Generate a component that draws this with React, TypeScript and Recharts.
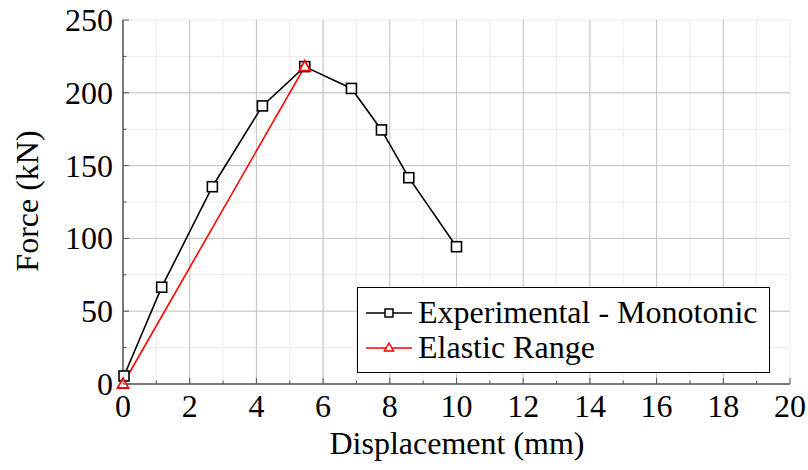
import React from 'react';
import { LineChart, Line, XAxis, YAxis, CartesianGrid, ReferenceLine, Legend } from 'recharts';

const expDisp = [0.03, 1.16, 2.68, 4.18, 5.45, 6.85, 7.75, 8.57, 10.0];
const expForce = [5.5, 66.5, 135.5, 191, 218, 203, 174.5, 141.7, 94.3];
const elasticDisp = [0, 5.45];
const elasticForce = [0, 218];

const xTicks = [0, 1, 2, 3, 4, 5, 6, 7, 8, 9, 10, 11, 12, 13, 14, 15, 16, 17, 18, 19, 20];
const yTicks = [0, 25, 50, 75, 100, 125, 150, 175, 200, 225, 250];
const xMajor = [2, 4, 6, 8, 10, 12, 14, 16, 18];
const yMajor = [50, 100, 150, 200];

const SERIES_EXP = 'Experimental - Monotonic';
const SERIES_EL = 'Elastic Range';
const SERIES_ORDER = [SERIES_EXP, SERIES_EL];

const expData = expDisp.map((x, i) => ({ x, y: expForce[i] }));
const elData = elasticDisp.map((x, i) => ({ x, y: elasticForce[i] }));

const FONT = '"Liberation Serif", "Times New Roman", serif';
const FS = 32;

const XTick = (props: any) => {
  const { x, y, payload } = props;
  const major = payload.value % 2 === 0;
  return (
    <g>
      <line x1={x} x2={x} y1={y} y2={y - (major ? 6 : 3.5)} stroke="#555" strokeWidth={1} />
      {major && (
        <text x={x} y={y + 33} textAnchor="middle" style={{ fontFamily: FONT, fontSize: FS }} fill="#000">
          {payload.value}
        </text>
      )}
    </g>
  );
};

const XTopTick = (props: any) => {
  const { x, y, payload } = props;
  const major = payload.value % 2 === 0;
  return <line x1={x} x2={x} y1={y} y2={y + (major ? 6 : 3.5)} stroke="#555" strokeWidth={1} />;
};

const YTick = (props: any) => {
  const { x, y, payload } = props;
  const major = payload.value % 50 === 0;
  return (
    <g>
      <line x1={x} x2={x + (major ? 6 : 3.5)} y1={y} y2={y} stroke="#555" strokeWidth={1} />
      {major && (
        <text x={x - 10} y={y + 11} textAnchor="end" style={{ fontFamily: FONT, fontSize: FS }} fill="#000">
          {payload.value}
        </text>
      )}
    </g>
  );
};

const YRightTick = (props: any) => {
  const { x, y, payload } = props;
  const major = payload.value % 50 === 0;
  return <line x1={x} x2={x - (major ? 6 : 3.5)} y1={y} y2={y} stroke="#555" strokeWidth={1} />;
};

const SquareDot = (props: any) => {
  const { cx, cy, index } = props;
  if (cx == null || cy == null) return <g key={index} />;
  return <rect key={index} x={cx - 5} y={cy - 5} width={10} height={10} fill="#fff" stroke="#000" strokeWidth={1.6} />;
};

const TriDot = (props: any) => {
  const { cx, cy, index } = props;
  if (cx == null || cy == null) return <g key={index} />;
  return (
    <path
      key={index}
      d={`M${cx},${cy - 6} L${cx + 5.5},${cy + 4} L${cx - 5.5},${cy + 4} Z`}
      fill="#fff"
      stroke="#f00"
      strokeWidth={1.8}
    />
  );
};

const LegendContent = (props: any) => {
  const { payload } = props;
  const items = [...(payload || [])].sort(
    (a: any, b: any) => SERIES_ORDER.indexOf(a.value) - SERIES_ORDER.indexOf(b.value)
  );
  return (
    <div
      style={{
        border: '1px solid #000',
        background: '#fff',
        padding: '7px 10px 9px 8px',
        boxSizing: 'border-box',
        height: 86,
      }}
    >
      {items.map((entry: any) => {
        const isExp = entry.value === SERIES_EXP;
        return (
          <div key={entry.value} style={{ display: 'flex', alignItems: 'center', height: 35 }}>
            <svg width={46} height={20} style={{ marginRight: 6, flex: 'none' }}>
              <line x1={0} x2={46} y1={10} y2={10} stroke={isExp ? '#000' : '#f00'} strokeWidth={1.6} />
              {isExp ? (
                <rect x={19} y={6} width={8} height={8} fill="#fff" stroke="#000" strokeWidth={1.5} />
              ) : (
                <path d="M23,5 L27.5,13 L18.5,13 Z" fill="#fff" stroke="#f00" strokeWidth={1.5} />
              )}
            </svg>
            <span style={{ fontFamily: FONT, fontSize: FS, color: '#000', lineHeight: '35px', whiteSpace: 'nowrap' }}>
              {entry.value}
            </span>
          </div>
        );
      })}
    </div>
  );
};

export default function App() {
  return (
    <div style={{ position: 'absolute', left: 0, top: 0, width: 808, height: 470, background: '#fff' }}>
      <LineChart width={808} height={470} margin={{ top: 20, right: 18, bottom: 0, left: 0 }}>
        <CartesianGrid stroke="#ebebeb" strokeWidth={1} xAxisId="main" yAxisId="main" />
        {xMajor.map((v) => (
          <ReferenceLine key={'gx' + v} x={v} xAxisId="main" yAxisId="main" stroke="#c4c4c4" strokeWidth={1} />
        ))}
        {yMajor.map((v) => (
          <ReferenceLine key={'gy' + v} y={v} xAxisId="main" yAxisId="main" stroke="#c4c4c4" strokeWidth={1} />
        ))}
        <XAxis
          xAxisId="main"
          type="number"
          dataKey="x"
          domain={[0, 20]}
          ticks={xTicks}
          interval={0}
          height={86}
          tickSize={0}
          tickMargin={0}
          tickLine={false}
          axisLine={{ stroke: '#000', strokeWidth: 1 }}
          tick={<XTick />}
          label={{
            content: () => (
              <text x={457} y={454} textAnchor="middle" style={{ fontFamily: FONT, fontSize: FS }} fill="#000">
                Displacement (mm)
              </text>
            ),
          }}
        />
        <XAxis
          xAxisId="top"
          orientation="top"
          type="number"
          dataKey="x"
          domain={[0, 20]}
          ticks={xTicks}
          interval={0}
          allowDataOverflow
          height={0}
          tickSize={0}
          tickMargin={0}
          tickLine={false}
          axisLine={{ stroke: '#000', strokeWidth: 1 }}
          tick={<XTopTick />}
        />
        <YAxis
          yAxisId="main"
          type="number"
          domain={[0, 250]}
          ticks={yTicks}
          interval={0}
          width={123}
          tickSize={0}
          tickMargin={0}
          tickLine={false}
          axisLine={{ stroke: '#000', strokeWidth: 1 }}
          tick={<YTick />}
          label={{
            content: () => (
              <text
                x={38}
                y={201}
                transform="rotate(-90 38 201)"
                textAnchor="middle"
                style={{ fontFamily: FONT, fontSize: FS }}
                fill="#000"
              >
                Force (kN)
              </text>
            ),
          }}
        />
        <YAxis
          yAxisId="right"
          orientation="right"
          type="number"
          domain={[0, 250]}
          ticks={yTicks}
          interval={0}
          allowDataOverflow
          width={0}
          tickSize={0}
          tickMargin={0}
          tickLine={false}
          axisLine={{ stroke: '#000', strokeWidth: 1 }}
          tick={<YRightTick />}
        />
        <Line
          xAxisId="main"
          yAxisId="main"
          data={expData}
          dataKey="y"
          name={SERIES_EXP}
          stroke="#000"
          strokeWidth={1.6}
          dot={SquareDot}
          activeDot={false}
          isAnimationActive={false}
        />
        <Line
          xAxisId="main"
          yAxisId="main"
          data={elData}
          dataKey="y"
          name={SERIES_EL}
          stroke="#f00"
          strokeWidth={1.6}
          dot={TriDot}
          activeDot={false}
          isAnimationActive={false}
        />
        <Legend
          layout="vertical"
          align="center"
          verticalAlign="middle"
          wrapperStyle={{ left: 357, top: 287, width: 413, height: 86 }}
          content={<LegendContent />}
        />
      </LineChart>
    </div>
  );
}
